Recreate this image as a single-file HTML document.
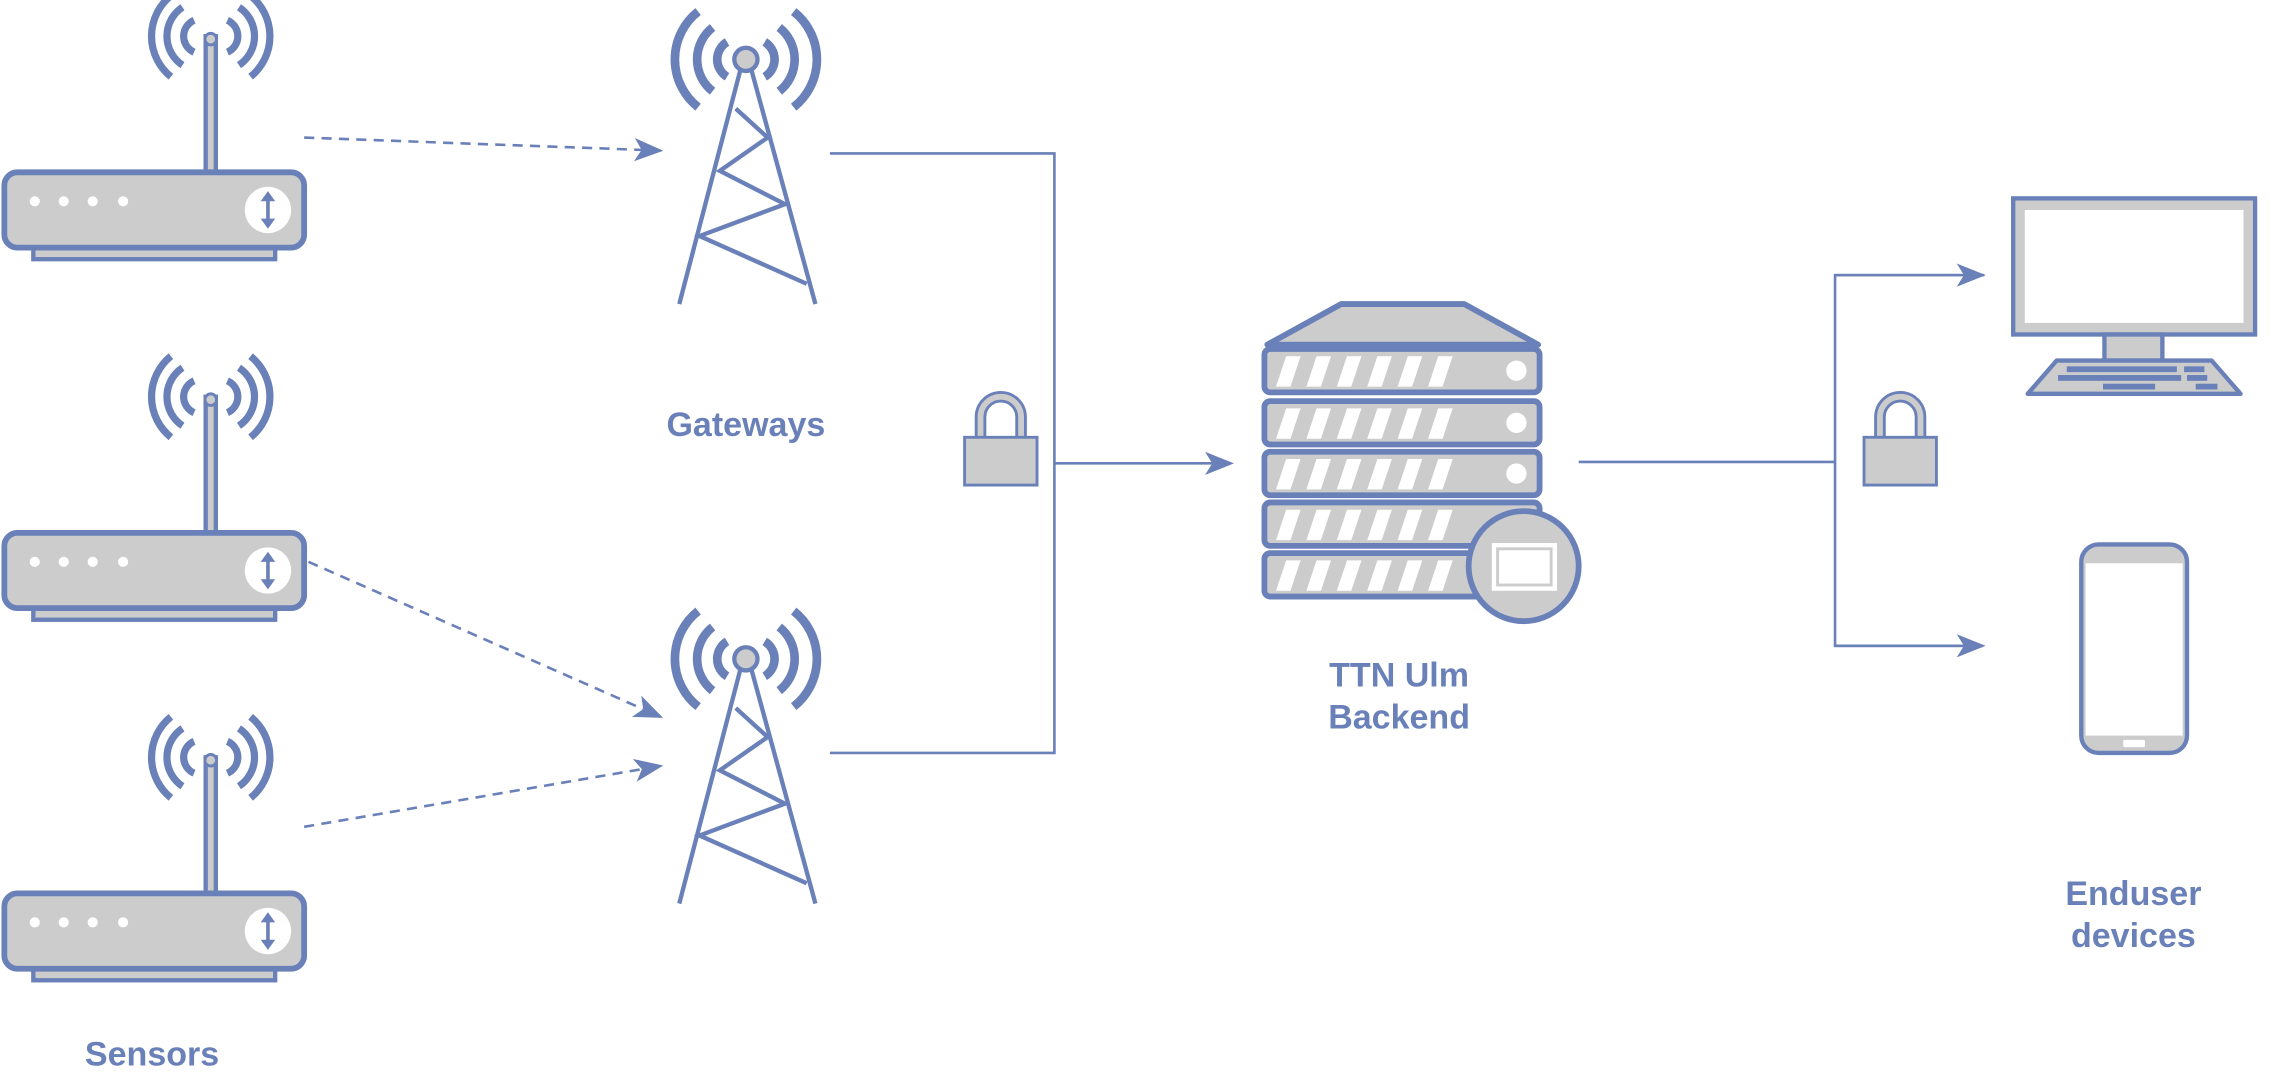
<!DOCTYPE html>
<html><head><meta charset="utf-8"><style>
html,body{margin:0;padding:0;background:#fff;width:2271px;height:1086px;overflow:hidden}
svg{display:block}
text{font-family:"Liberation Sans",Arial,sans-serif;font-weight:bold;fill:#6a80b8;font-size:23.5px;text-anchor:middle}
</style></head><body>
<svg width="2271" height="1086" viewBox="0 0 1568 750" preserveAspectRatio="none" xmlns="http://www.w3.org/2000/svg">
<defs>
<marker id="ah" viewBox="0 0 20 20" refX="18" refY="10" markerWidth="20" markerHeight="20" markerUnits="userSpaceOnUse" orient="auto">
<path d="M0,2 L20,10 L0,18 L5,10 Z" fill="#6a80b8"/>
</marker>
<g id="router">
 <g fill="none" stroke="#6a80b8" stroke-width="5">
  <path d="M134,14 A12,12 0 0 0 134,36"/><path d="M126,5 A24,24 0 0 0 126,45"/><path d="M118,-3 A36,36 0 0 0 118,53"/>
  <path d="M157,14 A12,12 0 0 1 157,36"/><path d="M165,5 A24,24 0 0 1 165,45"/><path d="M173,-3 A36,36 0 0 1 173,53"/>
 </g>
 <rect x="142" y="25" width="7" height="96" fill="#ccc" stroke="#6a80b8" stroke-width="3"/>
 <circle cx="145.5" cy="27" r="4" fill="#ccc" stroke="#6a80b8" stroke-width="2"/>
 <rect x="23" y="169" width="167" height="10" fill="#ccc" stroke="#6a80b8" stroke-width="3"/>
 <rect x="3" y="119" width="207" height="52" rx="9" fill="#ccc" stroke="#6a80b8" stroke-width="4"/>
 <g fill="#fff"><circle cx="24" cy="139" r="3.5"/><circle cx="44" cy="139" r="3.5"/><circle cx="64" cy="139" r="3.5"/><circle cx="85" cy="139" r="3.5"/></g>
 <ellipse cx="185" cy="145" rx="16" ry="16" fill="#fff"/>
 <path d="M185,135 V155" stroke="#6a80b8" stroke-width="2.5"/>
 <path d="M180,139 L185,132 L190,139 Z M180,151 L185,158 L190,151 Z" fill="#6a80b8"/>
</g>
<g id="tower">
 <g fill="none" stroke="#6a80b8" stroke-width="6">
  <path d="M502,29 A14,14 0 0 0 502,53"/><path d="M492,19 A28,28 0 0 0 492,63"/><path d="M482,8 A42,42 0 0 0 482,74"/>
  <path d="M528,29 A14,14 0 0 1 528,53"/><path d="M538,19 A28,28 0 0 1 538,63"/><path d="M548,8 A42,42 0 0 1 548,74"/>
 </g>
 <g fill="none" stroke="#6a80b8" stroke-width="3">
  <path d="M511,49 L469,210 M519,49 L563,210"/>
  <path d="M508,75 L530,95 L497,118 L542,141 L483,163 L557,196"/>
 </g>
 <circle cx="515" cy="41" r="8" fill="#ccc" stroke="#6a80b8" stroke-width="3"/>
</g>
<g id="lock">
 <path d="M677,302 V288 A14,14 0 0 1 705,288 V302" fill="none" stroke="#6a80b8" stroke-width="8"/>
 <path d="M677,302 V288 A14,14 0 0 1 705,288 V302" fill="none" stroke="#ccc" stroke-width="4"/>
 <rect x="666" y="302" width="50" height="33" fill="#ccc" stroke="#6a80b8" stroke-width="2"/>
</g>
<g id="unit">
 <rect x="873" y="0" width="190" height="30" rx="4" fill="#ccc" stroke="#6a80b8" stroke-width="4"/>
 <g fill="#fff">
  <path d="M881,26 L888,5 L898,5 L891,26Z M902,26 L909,5 L919,5 L912,26Z M923,26 L930,5 L940,5 L933,26Z M944,26 L951,5 L961,5 L954,26Z M965,26 L972,5 L982,5 L975,26Z M986,26 L993,5 L1003,5 L996,26Z"/>
 </g>
 <ellipse cx="1047" cy="15" rx="7" ry="7" fill="#fff"/>
</g>
</defs>

<use href="#router"/>
<use href="#router" y="249"/>
<use href="#router" y="498"/>
<use href="#tower"/>
<use href="#tower" y="414"/>

<g stroke="#6a80b8" stroke-width="1.8" fill="none">
 <path d="M210,95 L456,104" stroke-dasharray="7,5" marker-end="url(#ah)"/>
 <path d="M213,388 L456,495" stroke-dasharray="7,5" marker-end="url(#ah)"/>
 <path d="M210,571 L456,529" stroke-dasharray="7,5" marker-end="url(#ah)"/>
 <path d="M573,106 H728 V520 H573"/>
 <path d="M728,320 H850" marker-end="url(#ah)"/>
 <path d="M1090,319 H1267"/>
 <path d="M1370,190 H1267 V446 H1368" />
 <path d="M1267,190 H1369" marker-end="url(#ah)"/>
 <path d="M1267,446 H1369" marker-end="url(#ah)"/>
</g>

<use href="#lock"/>
<use href="#lock" x="621"/>

<!-- server -->
<path d="M875,238 L926,210 L1011,210 L1062,238 Z" fill="#ccc" stroke="#6a80b8" stroke-width="4" stroke-linejoin="round"/>
<use href="#unit" y="241"/>
<use href="#unit" y="277"/>
<use href="#unit" y="312"/>
<use href="#unit" y="347"/>
<use href="#unit" y="382"/>
<ellipse cx="1052" cy="391" rx="38" ry="38" fill="#ccc" stroke="#6a80b8" stroke-width="4"/>
<rect x="1030" y="375" width="45" height="33" fill="#fff"/>
<rect x="1034" y="379" width="37" height="25" fill="#fff" stroke="#ccc" stroke-width="2"/>

<!-- monitor -->
<rect x="1390" y="137" width="167" height="94" fill="#ccc" stroke="#6a80b8" stroke-width="3"/>
<rect x="1398" y="145" width="151" height="78" fill="#fff"/>
<rect x="1453" y="231" width="40" height="18" fill="#ccc" stroke="#6a80b8" stroke-width="3"/>
<path d="M1400,272 L1420,249 L1527,249 L1547,272 Z" fill="#ccc" stroke="#6a80b8" stroke-width="3" stroke-linejoin="round"/>
<g fill="#6a80b8">
 <rect x="1427" y="253" width="76" height="4"/><rect x="1508" y="253" width="14" height="4"/>
 <rect x="1421" y="259" width="85" height="4"/><rect x="1510" y="259" width="14" height="4"/>
 <rect x="1452" y="265" width="36" height="4"/><rect x="1516" y="265" width="15" height="4"/>
</g>

<!-- phone -->
<rect x="1437" y="376" width="73" height="144" rx="12" fill="#ccc" stroke="#6a80b8" stroke-width="3"/>
<rect x="1440" y="389" width="67" height="119" fill="#fff"/>
<rect x="1466" y="511" width="15" height="5" rx="1" fill="#fff"/>

<text x="515" y="301">Gateways</text>
<text x="105" y="736">Sensors</text>
<text x="966" y="474">TTN Ulm</text>
<text x="966" y="503">Backend</text>
<text x="1473" y="625">Enduser</text>
<text x="1473" y="654">devices</text>
</svg>
</body></html>
